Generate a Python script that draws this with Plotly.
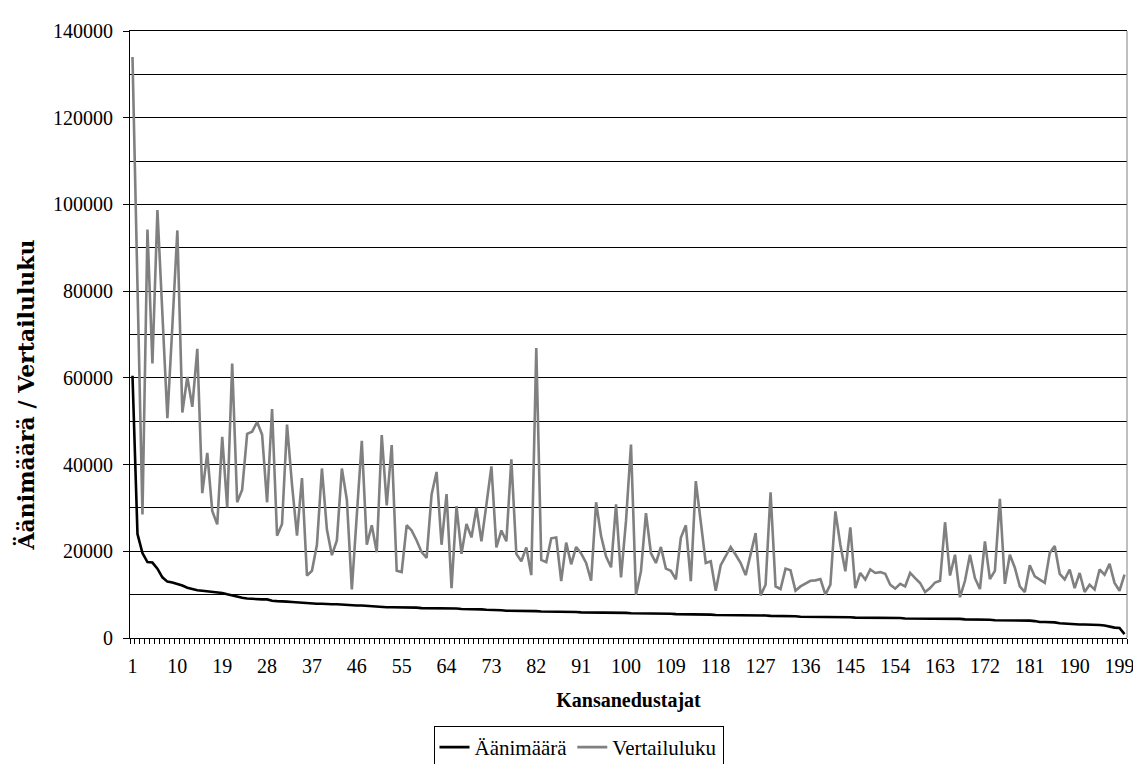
import plotly.graph_objects as go

# Categories: MPs ranked 1..200
members = list(range(1, 201))

# Äänimäärä (votes)
aanimaara = [
    60500, 24000, 19600, 17500, 17400, 16000, 14000, 13000, 12800, 12500,
    12100, 11600, 11300, 11000, 10900, 10800, 10700, 10500, 10400, 10100,
    9800, 9500, 9300, 9100, 9000, 9000, 8900, 8900, 8600, 8500,
    8500, 8400, 8300, 8200, 8100, 8000, 8000, 7900, 7900, 7800,
    7800, 7800, 7700, 7700, 7600, 7500, 7500, 7400, 7300, 7200,
    7100, 7100, 7100, 7100, 7100, 7000, 7000, 7000, 6900, 6900,
    6900, 6800, 6800, 6800, 6800, 6800, 6700, 6700, 6700, 6600,
    6600, 6500, 6500, 6400, 6400, 6300, 6300, 6300, 6200, 6200,
    6200, 6200, 6100, 6100, 6100, 6100, 6100, 6000, 6000, 6000,
    5900, 5900, 5900, 5900, 5900, 5800, 5800, 5800, 5800, 5800,
    5700, 5700, 5700, 5600, 5600, 5600, 5600, 5600, 5600, 5500,
    5500, 5500, 5500, 5500, 5500, 5400, 5400, 5300, 5300, 5300,
    5300, 5300, 5300, 5300, 5200, 5200, 5200, 5200, 5100, 5100,
    5000, 5000, 5000, 5000, 4900, 4900, 4900, 4900, 4900, 4900,
    4900, 4900, 4800, 4800, 4800, 4700, 4700, 4700, 4700, 4600,
    4600, 4600, 4600, 4600, 4600, 4500, 4500, 4500, 4400, 4400,
    4400, 4400, 4400, 4400, 4400, 4400, 4400, 4300, 4300, 4300,
    4200, 4200, 4200, 4100, 4100, 4100, 4100, 4100, 4000, 4000,
    4000, 3900, 3700, 3700, 3700, 3600, 3400, 3300, 3300, 3200,
    3100, 3100, 3100, 3000, 3000, 2900, 2600, 2400, 2300, 900,
]

# Vertailuluku (comparison number)
vertailuluku = [
    134000, 80000, 28500, 94200, 63300, 98700, 75000, 50700, 72000, 94000,
    52000, 60200, 53300, 66700, 33400, 42700, 29300, 26200, 46400, 30100,
    63300, 31300, 34200, 47100, 47600, 49800, 46900, 31300, 52800, 23600,
    26300, 49200, 35400, 23600, 36900, 14400, 15500, 21500, 39100, 25000,
    19100, 22500, 39100, 31900, 11200, 28000, 45500, 21500, 26000, 19800,
    46800, 30600, 44500, 15500, 15200, 26000, 24800, 22500, 19800, 18500,
    33100, 38300, 21500, 33200, 11500, 30400, 19400, 26300, 23200, 30000,
    22300, 30800, 39600, 20900, 24800, 22300, 41200, 19400, 17700, 20900,
    14500, 66900, 18000, 17500, 23000, 23200, 13100, 22000, 17000, 21000,
    19500, 17300, 13200, 31300, 23500, 18800, 16300, 30800, 14000, 27000,
    44600, 10000, 15400, 28800, 19600, 17300, 21000, 16000, 15500, 13500,
    23100, 26000, 13100, 36200, 26200, 17300, 17700, 10900, 16800, 19000,
    21000, 19200, 17300, 14500, 19000, 24200, 9800, 12300, 33600, 11900,
    11300, 16000, 15600, 10900, 11900, 12500, 13200, 13300, 13600, 10000,
    12300, 29200, 21500, 15400, 25500, 11500, 15000, 13500, 15800, 15000,
    15200, 14800, 12300, 11400, 12500, 11900, 15000, 13800, 12700, 10600,
    11500, 12800, 13200, 26700, 14400, 19200, 9400, 13200, 19200, 13800,
    11300, 22300, 13600, 15500, 32100, 12500, 19200, 16200, 11900, 10600,
    16800, 14200, 13500, 12700, 19600, 21200, 14800, 13500, 15800, 11500,
    15000, 10600, 12300, 11200, 15800, 14600, 17100, 12700, 10900, 14600,
]

tick_vals = [1, 10, 19, 28, 37, 46, 55, 64, 73, 82, 91, 100, 109, 118, 127,
             136, 145, 154, 163, 172, 181, 190, 199]
tick_text = ["1", "10", "19", "28", "37", "46", "55", "64", "73", "82", "91",
             "100", "109", "118", "127", "136", "145", "154", "163", "172",
             "181", "190", "199"]

SERIF = "Liberation Serif"
WIDE_SERIF = "DejaVu Serif"

fig = go.Figure()
fig.add_trace(go.Scatter(x=members, y=aanimaara, mode="lines", name="Äänimäärä",
                         line=dict(color="#000000", width=2.6)))
fig.add_trace(go.Scatter(x=members, y=vertailuluku, mode="lines", name="Vertailuluku",
                         line=dict(color="#808080", width=2.6)))

fig.update_layout(
    width=1141, height=764,
    margin=dict(l=122, r=22, t=16, b=134),
    plot_bgcolor="white", paper_bgcolor="white",
    font=dict(family=SERIF, size=20, color="black"),
    showlegend=True,
    legend=dict(orientation="h", xref="container", yref="container",
                x=0.5, xanchor="center", y=0.004, yanchor="bottom",
                bordercolor="black", borderwidth=1, bgcolor="white",
                font=dict(family=SERIF, size=21, color="black"), itemwidth=30,
                tracegroupgap=0),
    xaxis=dict(
        range=[0.5, 200.5], tickmode="array", tickvals=tick_vals, ticktext=tick_text,
        ticks="", showline=True, linecolor="black", linewidth=1, mirror=True,
        showgrid=False, zeroline=False, ticklabelstandoff=10,
        tickfont=dict(family=SERIF, size=20, color="black"),
        minor=dict(tickmode="linear", tick0=0.5, dtick=1, ticks="outside",
                   ticklen=5, tickcolor="black", showgrid=False),
        title=dict(text="<b>Kansanedustajat</b>",
                   font=dict(family=SERIF, size=20, color="black"), standoff=16),
    ),
    yaxis=dict(
        range=[0, 140000], tickmode="linear", tick0=0, dtick=20000, tickformat="d",
        ticks="outside", ticklen=6, tickcolor="black",
        showline=True, linecolor="black", linewidth=1,
        showgrid=True, gridcolor="black", gridwidth=1, zeroline=False,
        ticklabelstandoff=6,
        tickfont=dict(family=SERIF, size=20, color="black"),
        minor=dict(tickmode="linear", tick0=0, dtick=10000, showgrid=True,
                   gridcolor="black", gridwidth=1, ticks=""),
    ),
)

# y-axis title (placed like in the reference, slightly below centre)
fig.add_annotation(text="<b>Äänimäärä / Vertailuluku</b>", textangle=-90,
                   xref="paper", yref="paper", x=-0.105, y=0.40,
                   xanchor="center", yanchor="middle", showarrow=False,
                   font=dict(family=WIDE_SERIF, size=22, color="black"))

# gray right border of the plot area
fig.add_shape(type="line", xref="x domain", yref="y domain", x0=1, x1=1, y0=0, y1=1,
              line=dict(color="#808080", width=1))

fig.write_html("out.html")
